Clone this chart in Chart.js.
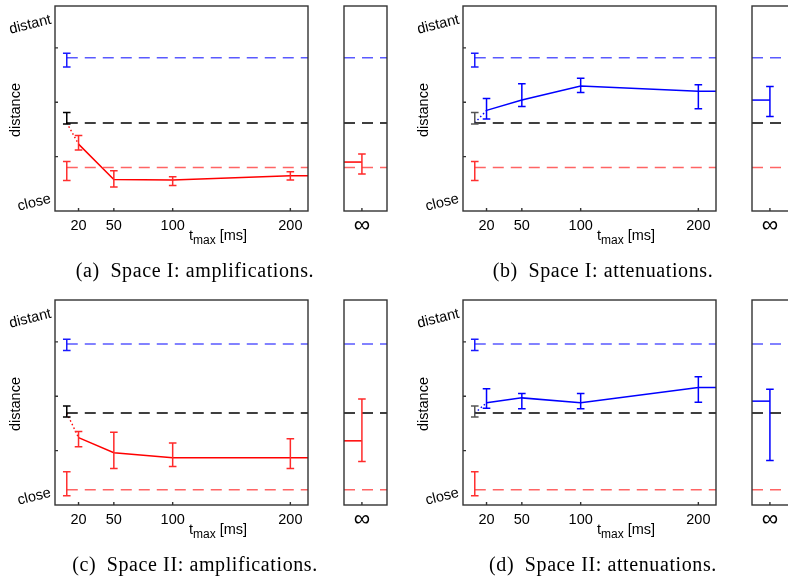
<!DOCTYPE html>
<html>
<head>
<meta charset="utf-8">
<script src="https://cdn.jsdelivr.net/npm/chart.js@4.4.1/dist/chart.umd.min.js"></script>
<style>
  body { margin: 0; width: 788px; height: 578px; overflow: hidden; background: #fff; position: relative; }
  canvas { position: absolute; }
  .lbl { position: absolute; white-space: nowrap; color: #000; font-family: "Liberation Sans", Arial, sans-serif; font-size: 14.5px; line-height: 1; }
  .cap { font-family: "Liberation Serif", "Times New Roman", serif; font-size: 20px; letter-spacing: 0.6px; }
  sub { font-size: 12px; vertical-align: -4px; }
</style>
</head>
<body>
<script>
const tmaxValues = [20, 50, 100, 200];
const yTickValues = [1, 2, 3];
const baselineT = 10;
const tmaxLimit = 215;
const distanceLimit = 3.77;
const infLimit = 2.4;
const infPos = 1;

// reference levels: distant, unprocessed, close
const space1Ref = [2.82, 1.62, 0.80];
const space1RefLow = [2.65, 1.60, 0.56];
const space1RefHigh = [2.90, 1.81, 0.91];
const space2Ref = [2.96, 1.69, 0.28];
const space2RefLow = [2.84, 1.62, 0.17];
const space2RefHigh = [3.05, 1.82, 0.61];

const amp1Mean = [1.23, 0.58, 0.57, 0.65];
const amp1Low = [1.12, 0.44, 0.47, 0.57];
const amp1High = [1.39, 0.74, 0.63, 0.72];
const amp1Inf = [0.90, 0.68, 1.05];

const att1Mean = [1.85, 2.04, 2.30, 2.20];
const att1Low = [1.69, 1.92, 2.18, 1.88];
const att1High = [2.07, 2.34, 2.44, 2.32];
const att1Inf = [2.04, 1.74, 2.29];

const amp2Mean = [1.24, 0.96, 0.87, 0.87];
const amp2Low = [1.07, 0.67, 0.71, 0.67];
const amp2High = [1.35, 1.34, 1.14, 1.22];
const amp2Inf = [1.18, 0.80, 1.95];

const att2Mean = [1.88, 1.97, 1.88, 2.16];
const att2Low = [1.78, 1.77, 1.77, 1.89];
const att2High = [2.14, 2.05, 2.05, 2.36];
const att2Inf = [1.91, 0.82, 2.13];

const refDash = ['#5a5aff', '#000000', '#ff6464'];
const refBar = ['#1a1aff', '#000000', '#ff3030'];
const SANS = '"Liberation Sans", Arial, sans-serif';

const panels = [
  { x: 0,   y: 0,   ref: space1Ref, lo: space1RefLow, hi: space1RefHigh, mean: amp1Mean, low: amp1Low, high: amp1High, inf: amp1Inf, color: '#ff0000', bar: '#ff2a2a', base: '#000000', caption: '(a)\u2002Space I: amplifications.' },
  { x: 408, y: 0,   ref: space1Ref, lo: space1RefLow, hi: space1RefHigh, mean: att1Mean, low: att1Low, high: att1High, inf: att1Inf, color: '#0000ff', bar: '#0000ff', base: '#555555', caption: '(b)\u2002Space I: attenuations.' },
  { x: 0,   y: 294, ref: space2Ref, lo: space2RefLow, hi: space2RefHigh, mean: amp2Mean, low: amp2Low, high: amp2High, inf: amp2Inf, color: '#ff0000', bar: '#ff2a2a', base: '#000000', caption: '(c)\u2002Space II: amplifications.' },
  { x: 408, y: 294, ref: space2Ref, lo: space2RefLow, hi: space2RefHigh, mean: att2Mean, low: att2Low, high: att2High, inf: att2Inf, color: '#0000ff', bar: '#0000ff', base: '#555555', caption: '(d)\u2002Space II: attenuations.' }
];

// vertical error bars with caps, from errLow/errHigh on a dataset
const errorBars = {
  id: 'errorBars',
  afterDatasetsDraw(chart) {
    const ctx = chart.ctx, ys = chart.scales.y;
    chart.data.datasets.forEach((ds, i) => {
      if (!ds.errLow) return;
      const meta = chart.getDatasetMeta(i);
      ds.errLow.forEach((lo, j) => {
        if (lo == null) return;
        const px = meta.data[j].x;
        const yl = ys.getPixelForValue(lo), yh = ys.getPixelForValue(ds.errHigh[j]);
        ctx.save();
        ctx.strokeStyle = ds.errColor || ds.borderColor;
        ctx.lineWidth = 1.5;
        ctx.beginPath();
        ctx.moveTo(px, yl); ctx.lineTo(px, yh);
        ctx.moveTo(px - 3.8, yl); ctx.lineTo(px + 3.8, yl);
        ctx.moveTo(px - 3.8, yh); ctx.lineTo(px + 3.8, yh);
        ctx.stroke();
        ctx.restore();
      });
    });
  }
};

// box around the plot area plus short inward tick marks
const frame = {
  id: 'frame',
  afterDraw(chart, args, opts) {
    const { ctx, chartArea: a, scales } = chart;
    ctx.save();
    ctx.strokeStyle = '#333333';
    ctx.lineWidth = 1.4;
    ctx.strokeRect(a.left, a.top, a.right - a.left, a.bottom - a.top);
    ctx.beginPath();
    scales.x.ticks.forEach(t => {
      const px = scales.x.getPixelForValue(t.value);
      ctx.moveTo(px, a.bottom); ctx.lineTo(px, a.bottom - 3);
    });
    if (opts.yTicks) {
      scales.y.ticks.forEach(t => {
        const py = scales.y.getPixelForValue(t.value);
        ctx.moveTo(a.left, py); ctx.lineTo(a.left + 3, py);
      });
    }
    ctx.stroke();
    ctx.restore();
  }
};

function refDatasets(p, x0, x1, withBars) {
  const sets = p.ref.map((v, k) => ({
    data: [{ x: x0, y: v }, { x: x1, y: v }],
    borderColor: refDash[k], borderWidth: 1.5, borderDash: [11, 7]
  }));
  if (withBars) {
    p.ref.forEach((v, k) => sets.push({
      data: [{ x: baselineT, y: v }], showLine: false,
      borderColor: k === 1 ? p.base : refBar[k], errLow: [p.lo[k]], errHigh: [p.hi[k]]
    }));
  }
  return sets;
}

function baseOptions(xMax, xTicks, tickFont, tickPad, yWidth, showYTicks, labelFn) {
  return {
    responsive: false,
    animation: false,
    events: [],
    layout: { padding: { top: 6, right: 13, left: 0, bottom: 0 } },
    elements: { point: { radius: 0 }, line: { tension: 0 } },
    plugins: { legend: { display: false }, tooltip: { enabled: false }, frame: { yTicks: showYTicks } },
    scales: {
      x: {
        type: 'linear', min: 0, max: xMax,
        afterBuildTicks: sc => { sc.ticks = xTicks.map(v => ({ value: v })); },
        afterFit: sc => { sc.height = 39; },
        grid: { display: false, drawTicks: false },
        border: { display: false },
        ticks: { font: { family: SANS, size: tickFont }, color: '#000', padding: tickPad, maxRotation: 0, autoSkip: false, callback: labelFn }
      },
      y: {
        type: 'linear', min: 0, max: distanceLimit,
        afterBuildTicks: sc => { sc.ticks = yTickValues.map(v => ({ value: v })); },
        afterFit: sc => { sc.width = yWidth; },
        grid: { display: false, drawTicks: false },
        border: { display: false },
        ticks: { display: false }
      }
    }
  };
}

function addCanvas(left, top, w, h) {
  const c = document.createElement('canvas');
  c.width = w; c.height = h;
  c.style.left = left + 'px'; c.style.top = top + 'px';
  document.body.appendChild(c);
  return c;
}

function addLabel(html, cx, cy, rot, cls) {
  const d = document.createElement('div');
  d.className = 'lbl' + (cls ? ' ' + cls : '');
  d.innerHTML = html;
  d.style.left = cx + 'px'; d.style.top = cy + 'px';
  d.style.transform = 'translate(-50%, -50%) rotate(' + rot + 'deg)';
  document.body.appendChild(d);
}

panels.forEach(p => {
  const last = p.mean.length - 1;

  // main plot over t_max
  const main = [
    ...refDatasets(p, baselineT, tmaxLimit, true),
    {
      data: [{ x: baselineT, y: p.ref[1] }, { x: tmaxValues[0], y: p.mean[0] }],
      borderColor: p.color, borderWidth: 1.4, borderDash: [1.5, 2.5]
    },
    {
      data: [...tmaxValues.map((t, i) => ({ x: t, y: p.mean[i] })), { x: tmaxLimit, y: p.mean[last] }],
      borderColor: p.color, borderWidth: 1.5,
      errLow: p.low, errHigh: p.high, errColor: p.bar
    }
  ];
  new Chart(addCanvas(p.x, p.y, 321, 250), {
    type: 'line',
    data: { datasets: main },
    options: baseOptions(tmaxLimit, tmaxValues, 14.5, 6, 55, true),
    plugins: [errorBars, frame]
  });

  // side plot for t_max = infinity
  const side = [
    ...refDatasets(p, 0, infLimit, false),
    {
      data: [{ x: 0, y: p.inf[0] }, { x: infPos, y: p.inf[0] }],
      borderColor: p.color, borderWidth: 1.5,
      errLow: [null, p.inf[1]], errHigh: [null, p.inf[2]], errColor: p.bar
    }
  ];
  new Chart(addCanvas(p.x + 330, p.y, 70, 250), {
    type: 'line',
    data: { datasets: side },
    options: baseOptions(infLimit, [infPos], 23, 1, 14, false, () => '\u221e'),
    plugins: [errorBars, frame]
  });

  addLabel('distant', p.x + 29.5, p.y + 24, -14);
  addLabel('close', p.x + 34, p.y + 202, -14);
  addLabel('distance', p.x + 15, p.y + 110, -90);
  addLabel('t<sub>max</sub> [ms]', p.x + 218, p.y + 237, 0);
  addLabel(p.caption, p.x + 195, p.y + 270, 0, 'cap');
});
</script>
</body>
</html>
